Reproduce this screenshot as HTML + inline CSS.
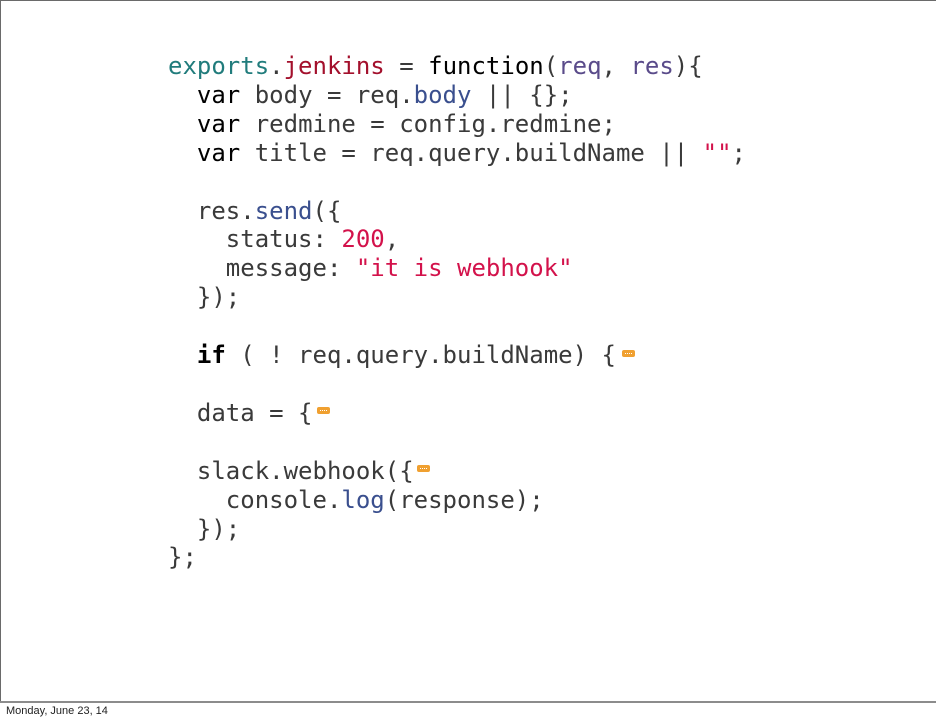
<!DOCTYPE html>
<html>
<head>
<meta charset="utf-8">
<style>
  html, body { margin:0; padding:0; background:#fff; }
  body { width:936px; height:720px; position:relative; overflow:hidden; }
  .slide { position:absolute; left:0; top:0; width:936px; height:701px;
    border-top:1px solid #6a6a6a; border-left:1px solid #6a6a6a; box-sizing:border-box; }
  .bottom { position:absolute; left:0; top:701px; width:936px; height:2px; background:#8c8c8c; }
  pre { position:absolute; left:168px; top:52px; margin:0;
    font-family:"DejaVu Sans Mono","Liberation Mono",monospace; font-size:24px; line-height:28.9px;
    color:#3a3a3a; }
  .t { color:#217c7c; }
  .j { color:#a3102c; }
  .k { color:#000; }
  .b { color:#000; font-weight:bold; }
  .p { color:#5a4b8a; }
  .m { color:#3a4f8e; }
  .n { color:#d3124b; }
  .f { display:inline-block; width:13px; height:7px; background:#f0a030; border-radius:2px;
    vertical-align:middle; position:relative; top:-3px; }
  .f::after { content:""; position:absolute; left:3px; top:3px; width:7px; height:1px;
    background:repeating-linear-gradient(90deg,#fff 0 1px,transparent 1px 2px); }
  .foot { position:absolute; left:6px; top:705px; font-family:"Liberation Sans",Arial,sans-serif;
    font-size:11px; color:#222; }
</style>
</head>
<body>
<div class="slide"></div>
<div class="bottom"></div>
<pre><span class="t">exports</span>.<span class="j">jenkins</span> = <span class="k">function</span>(<span class="p">req</span>, <span class="p">res</span>){
  <span class="k">var</span> body = req.<span class="m">body</span> || {};
  <span class="k">var</span> redmine = config.redmine;
  <span class="k">var</span> title = req.query.buildName || <span class="n">""</span>;

  res.<span class="m">send</span>({
    status: <span class="n">200</span>,
    message: <span class="n">"it is webhook"</span>
  });

  <span class="b">if</span> ( ! req.query.buildName) {<span class="f" style="margin-left:6px"></span>

  data = {<span class="f" style="margin-left:4px"></span>

  slack.webhook({<span class="f" style="margin-left:3px"></span>
    console.<span class="m">log</span>(response);
  });
};</pre>
<div class="foot">Monday, June 23, 14</div>
</body>
</html>
